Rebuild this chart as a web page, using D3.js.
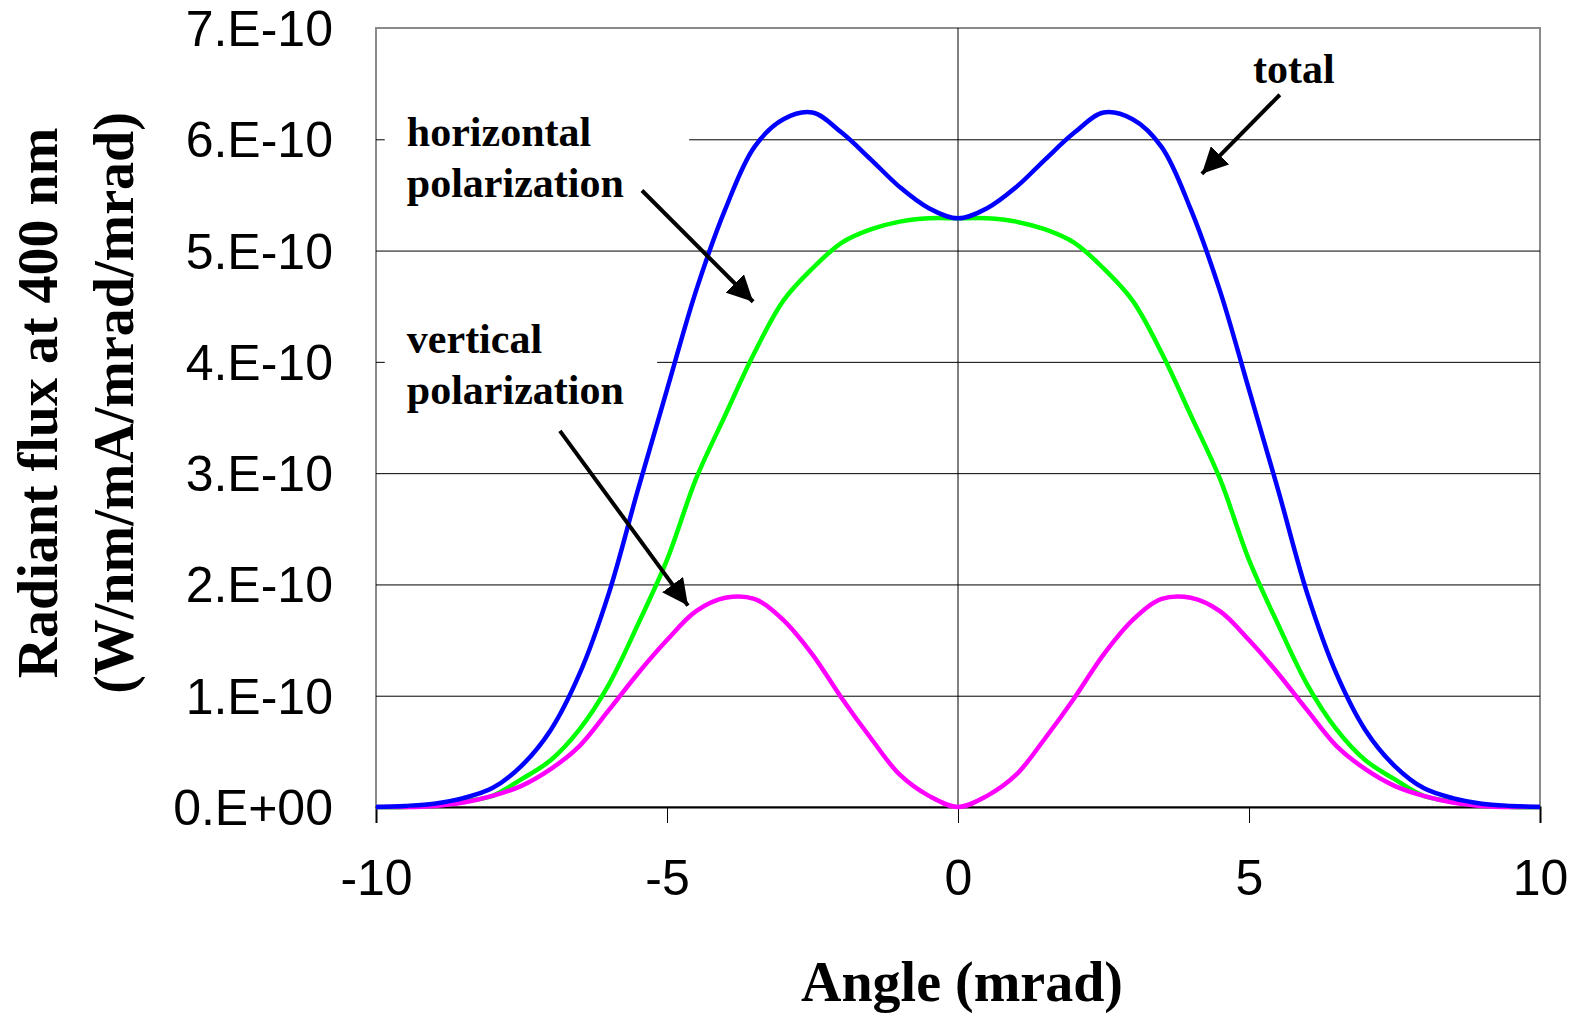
<!DOCTYPE html>
<html>
<head>
<meta charset="utf-8">
<script src="https://cdn.jsdelivr.net/npm/d3@7"></script>
<style>
  body { margin: 0; background: #fff; }
</style>
</head>
<body>
<svg id="chart" width="1579" height="1013"></svg>
<script>
// angle in mrad, flux in units of 1E-10 W/nm/mA/mrad/mrad
const angles = [-10, -9.5, -9, -8.5, -8, -7.5, -7, -6.5, -6, -5.5, -5, -4.5, -4, -3.5, -3, -2.5, -2, -1.5, -1, -0.5,
  0, 0.5, 1, 1.5, 2, 2.5, 3, 3.5, 4, 4.5, 5, 5.5, 6, 6.5, 7, 7.5, 8, 8.5, 9, 9.5, 10];
const total = [0.00, 0.01, 0.03, 0.08, 0.17, 0.37, 0.69, 1.20, 1.92, 2.85, 3.75, 4.64, 5.37, 5.93, 6.18, 6.24, 6.06, 5.82, 5.57, 5.38,
  5.29, 5.38, 5.57, 5.82, 6.06, 6.24, 6.18, 5.93, 5.37, 4.64, 3.75, 2.85, 1.92, 1.20, 0.69, 0.37, 0.17, 0.08, 0.03, 0.01, 0.00];
const horizontalPol = [0.00, 0.00, 0.02, 0.05, 0.10, 0.25, 0.42, 0.70, 1.10, 1.64, 2.22, 2.95, 3.52, 4.08, 4.55, 4.84, 5.07, 5.19, 5.26, 5.29,
  5.29, 5.29, 5.26, 5.19, 5.07, 4.84, 4.55, 4.08, 3.52, 2.95, 2.22, 1.64, 1.10, 0.70, 0.42, 0.25, 0.10, 0.05, 0.02, 0.00, 0.00];
const verticalPol = [0.00, 0.00, 0.01, 0.04, 0.10, 0.19, 0.34, 0.55, 0.87, 1.20, 1.50, 1.76, 1.88, 1.87, 1.68, 1.37, 0.98, 0.62, 0.29, 0.10,
  0.00, 0.10, 0.29, 0.62, 0.98, 1.37, 1.68, 1.87, 1.88, 1.76, 1.50, 1.20, 0.87, 0.55, 0.34, 0.19, 0.10, 0.04, 0.01, 0.00, 0.00];

const xTicks = [-10, -5, 0, 5, 10];
const yTicks = [0, 1, 2, 3, 4, 5, 6, 7];
const yTickLabels = ['0.E+00', '1.E-10', '2.E-10', '3.E-10', '4.E-10', '5.E-10', '6.E-10', '7.E-10'];

const width = 1579;
const height = 1013;
const plot = { left: 376, right: 1540, top: 28, bottom: 807 };
const serif = '"Liberation Serif", "Times New Roman", serif';
const sans = '"Liberation Sans", Arial, sans-serif';

const xScale = d3.scaleLinear().domain([-10, 10]).range([plot.left, plot.right]);
const yScale = d3.scaleLinear().domain([0, 7]).range([plot.bottom, plot.top]);

const svg = d3.select('#chart');

// plot area frame
svg.append('rect')
  .attr('x', plot.left).attr('y', plot.top)
  .attr('width', plot.right - plot.left).attr('height', plot.bottom - plot.top)
  .attr('fill', 'none').attr('stroke', '#8a8a8a').attr('stroke-width', 2);

// horizontal grid lines
const yAxis = d3.axisLeft(yScale)
  .tickValues(yTicks.slice(1, -1))
  .tickSize(-(plot.right - plot.left))
  .tickFormat('');
const yGrid = svg.append('g').attr('transform', `translate(${plot.left},0)`).call(yAxis);
yGrid.select('.domain').remove();
yGrid.selectAll('line').attr('stroke', '#000').attr('stroke-width', 1);

// y tick labels
svg.append('g').selectAll('text')
  .data(yTicks)
  .join('text')
  .attr('x', 333)
  .attr('y', (d) => yScale(d))
  .attr('dy', '0.36em')
  .attr('text-anchor', 'end')
  .attr('font-family', sans)
  .attr('font-size', 50)
  .text((d, i) => yTickLabels[i]);

// vertical line at x = 0
svg.append('line')
  .attr('x1', xScale(0)).attr('x2', xScale(0))
  .attr('y1', plot.top).attr('y2', plot.bottom)
  .attr('stroke', '#000').attr('stroke-width', 1);

// x axis
const xAxis = d3.axisBottom(xScale)
  .tickValues(xTicks)
  .tickSize(16)
  .tickPadding(36)
  .tickFormat((d) => d);
const xAxisGroup = svg.append('g').attr('transform', `translate(0,${plot.bottom})`).call(xAxis);
xAxisGroup.select('.domain').attr('stroke', '#000').attr('stroke-width', 2);
xAxisGroup.selectAll('line').attr('stroke', '#000').attr('stroke-width', 1);
xAxisGroup.selectAll('text')
  .attr('font-family', sans)
  .attr('font-size', 50)
  .attr('fill', '#000');

// white boxes behind the annotation text
const boxes = [
  { x0: -9.85, x1: -4.62, y0: 6.35, y1: 5.32 },
  { x0: -9.85, x1: -5.17, y0: 4.51, y1: 3.48 },
];
svg.append('g').selectAll('rect')
  .data(boxes)
  .join('rect')
  .attr('x', (d) => xScale(d.x0))
  .attr('y', (d) => yScale(d.y0))
  .attr('width', (d) => xScale(d.x1) - xScale(d.x0))
  .attr('height', (d) => yScale(d.y1) - yScale(d.y0))
  .attr('fill', '#fff');

// curves
const line = d3.line()
  .x((d) => xScale(d[0]))
  .y((d) => yScale(d[1]))
  .curve(d3.curveCatmullRom.alpha(0.5));

const series = [
  { values: horizontalPol, color: '#00ff00' },
  { values: verticalPol, color: '#ff00ff' },
  { values: total, color: '#0000ff' },
];
series.forEach((s) => {
  svg.append('path')
    .attr('d', line(angles.map((a, i) => [a, s.values[i]])))
    .attr('fill', 'none')
    .attr('stroke', s.color)
    .attr('stroke-width', 4.5)
    .attr('stroke-linejoin', 'round');
});

// annotations
const notes = [
  { lines: ['horizontal', 'polarization'], x: -9.47, y: 5.94 },
  { lines: ['vertical', 'polarization'], x: -9.47, y: 4.08 },
  { lines: ['total'], x: 5.07, y: 6.51 },
];
notes.forEach((n) => {
  const t = svg.append('text')
    .attr('x', xScale(n.x))
    .attr('y', yScale(n.y))
    .attr('font-family', serif)
    .attr('font-weight', 'bold')
    .attr('font-size', 42);
  n.lines.forEach((l, i) => {
    t.append('tspan').attr('x', xScale(n.x)).attr('dy', i === 0 ? 0 : 51).text(l);
  });
});

svg.append('defs').append('marker')
  .attr('id', 'head')
  .attr('viewBox', '0 0 10 10')
  .attr('refX', 10).attr('refY', 5)
  .attr('markerUnits', 'userSpaceOnUse')
  .attr('markerWidth', 26).attr('markerHeight', 26)
  .attr('orient', 'auto')
  .append('path')
  .attr('d', 'M0,0 L10,5 L0,10 Z')
  .attr('fill', '#000');

const arrows = [
  { x1: 5.53, y1: 6.40, x2: 4.19, y2: 5.69 },
  { x1: -5.43, y1: 5.54, x2: -3.52, y2: 4.54 },
  { x1: -6.84, y1: 3.38, x2: -4.64, y2: 1.81 },
];
svg.append('g').selectAll('line')
  .data(arrows)
  .join('line')
  .attr('x1', (d) => xScale(d.x1))
  .attr('y1', (d) => yScale(d.y1))
  .attr('x2', (d) => xScale(d.x2))
  .attr('y2', (d) => yScale(d.y2))
  .attr('stroke', '#000')
  .attr('stroke-width', 4)
  .attr('marker-end', 'url(#head)');

// axis titles
svg.append('text')
  .attr('x', 962)
  .attr('y', 1001)
  .attr('text-anchor', 'middle')
  .attr('font-family', serif)
  .attr('font-weight', 'bold')
  .attr('font-size', 56)
  .text('Angle (mrad)');

const yTitle = svg.append('text')
  .attr('transform', 'translate(57,403) rotate(-90)')
  .attr('text-anchor', 'middle')
  .attr('font-family', serif)
  .attr('font-weight', 'bold')
  .attr('font-size', 56);
yTitle.append('tspan').attr('x', 0).attr('y', 0).text('Radiant flux at 400 nm');
yTitle.append('tspan').attr('x', 0).attr('y', 76).text('(W/nm/mA/mrad/mrad)');
</script>
</body>
</html>
